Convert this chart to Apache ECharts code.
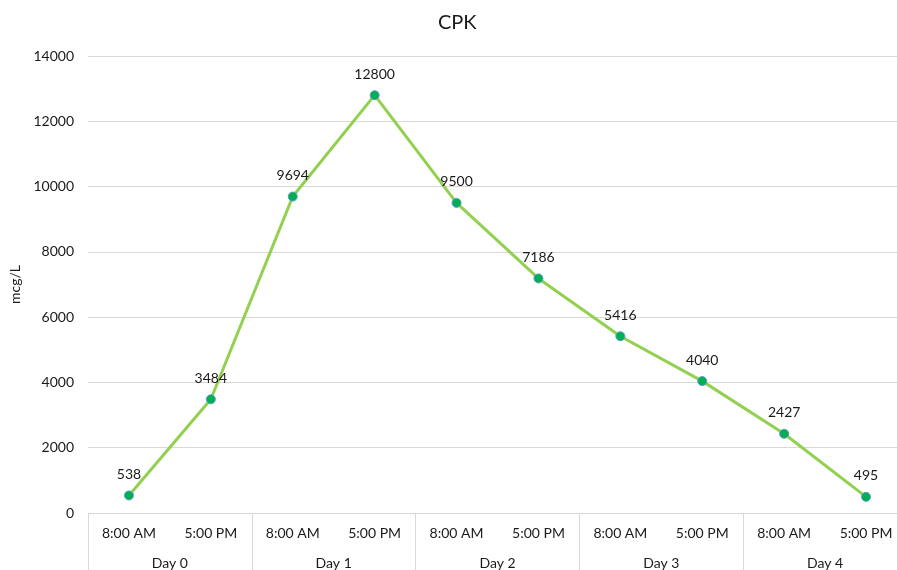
<!DOCTYPE html>
<html>
<head>
<meta charset="utf-8">
<script src="https://cdn.jsdelivr.net/npm/echarts@6/dist/echarts.min.js"></script>
<style>
  html, body { margin: 0; padding: 0; background: #fff; }
  #chart { width: 897px; height: 570px; }
</style>
</head>
<body>
<div id="chart"></div>
<script>
  // data
  var times = ['8:00 AM', '5:00 PM', '8:00 AM', '5:00 PM', '8:00 AM', '5:00 PM', '8:00 AM', '5:00 PM', '8:00 AM', '5:00 PM'];
  var days = ['Day 0', 'Day 1', 'Day 2', 'Day 3', 'Day 4'];
  var cpk = [538, 3484, 9694, 12800, 9500, 7186, 5416, 4040, 2427, 495];

  var font = 'Lato, "Open Sans", sans-serif';
  var ink = '#1a1a1a';
  var myChart = echarts.init(document.getElementById('chart'));

  var option = {
    backgroundColor: '#fff',
    animation: false,
    title: {
      text: 'CPK',
      left: 433,
      top: 8,
      textStyle: { fontFamily: font, fontSize: 20, fontWeight: 'normal', color: ink }
    },
    // plot runs a bit past the right edge, like the reference
    grid: { left: 88, width: 819, top: 56, bottom: 57, outerBoundsMode: 'none', containLabel: false },
    xAxis: [{
      type: 'category',
      data: times,
      position: 'bottom',
      axisLine: { show: true, lineStyle: { color: '#d9d9d9', width: 1 } },
      axisTick: { show: false },
      axisLabel: { margin: 13, fontFamily: font, fontSize: 14, color: ink, interval: 0 }
    }, {
      type: 'category',
      data: days,
      position: 'bottom',
      axisLine: { show: false },
      axisTick: { show: true, length: 60, lineStyle: { color: '#d9d9d9' } },
      axisLabel: { margin: 43, fontFamily: font, fontSize: 14, color: ink, interval: 0 }
    }],
    yAxis: {
      type: 'value',
      min: 0,
      max: 14000,
      interval: 2000,
      name: 'mcg/L',
      nameLocation: 'middle',
      nameGap: 62,
      nameTextStyle: { fontFamily: font, fontSize: 14, color: ink },
      axisLine: { show: false },
      axisTick: { show: false },
      axisLabel: {
        margin: 14, fontFamily: font, fontSize: 14, color: ink,
        formatter: function (v) { return String(v); }
      },
      splitLine: { lineStyle: { color: '#d9d9d9', width: 1 } }
    },
    series: [{
      name: 'CPK',
      type: 'line',
      data: cpk,
      xAxisIndex: 0,
      symbol: 'circle',
      symbolSize: 9,
      lineStyle: { color: '#92D050', width: 3 },
      itemStyle: { color: '#00B050', borderColor: '#5B9BD5', borderWidth: 1 },
      label: {
        show: true,
        position: 'top',
        distance: 9,
        fontFamily: font,
        fontSize: 14,
        color: ink
      }
    }]
  };
  myChart.setOption(option);
</script>
</body>
</html>
